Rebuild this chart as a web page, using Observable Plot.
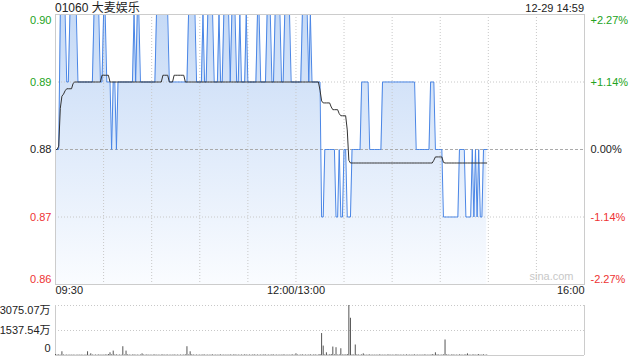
<!DOCTYPE html>
<html><head><meta charset="utf-8">
<script src="https://cdn.jsdelivr.net/npm/d3@7"></script>
<script src="https://cdn.jsdelivr.net/npm/@observablehq/plot@0.6"></script>
<style>
body{margin:0;background:#fff;}
#wrap{position:relative;width:640px;height:360px;font-family:"Liberation Sans",Arial,"Noto Sans CJK SC",sans-serif;}
#title{position:absolute;left:55px;top:0px;font-size:12px;color:#222;line-height:16px;}
#time{position:absolute;right:56px;top:1px;font-size:11px;color:#222;line-height:14px;}
#main,#vol{position:absolute;left:0;}
#main{top:0}
#vol{top:300px}
</style></head><body>
<div id="wrap"><div id="title">01060 大麦娱乐</div><div id="time">12-29 14:59</div><div id="main"></div><div id="vol"></div></div>
<script>
// minute-by-minute price (09:30 .. 14:59, trading minutes)
const price = [
0.88,0.88,0.88,0.90,0.90,0.90,0.90,0.89,0.89,0.90,
0.90,0.90,0.90,0.90,0.89,0.89,0.89,0.89,0.89,0.89,
0.89,0.89,0.89,0.89,0.90,0.90,0.90,0.90,0.89,0.89,
0.90,0.90,0.89,0.89,0.89,0.88,0.89,0.89,0.88,0.89,
0.89,0.89,0.89,0.89,0.89,0.89,0.89,0.89,0.89,0.90,
0.89,0.90,0.90,0.89,0.89,0.89,0.89,0.89,0.89,0.89,
0.89,0.89,0.89,0.90,0.90,0.90,0.90,0.90,0.90,0.90,
0.90,0.89,0.89,0.89,0.89,0.89,0.89,0.89,0.89,0.89,
0.89,0.89,0.89,0.90,0.90,0.90,0.90,0.90,0.89,0.89,
0.89,0.89,0.90,0.89,0.89,0.90,0.90,0.90,0.90,0.89,
0.89,0.89,0.90,0.89,0.89,0.90,0.90,0.90,0.90,0.89,
0.90,0.90,0.90,0.89,0.89,0.90,0.89,0.89,0.89,0.90,
0.89,0.89,0.89,0.89,0.89,0.89,0.90,0.90,0.89,0.89,
0.89,0.89,0.90,0.90,0.90,0.89,0.89,0.90,0.90,0.90,
0.90,0.89,0.89,0.90,0.90,0.90,0.90,0.89,0.89,0.89,
0.89,0.89,0.89,0.89,0.90,0.90,0.90,0.90,0.89,0.90,
0.89,0.89,0.89,0.89,0.89,0.89,0.87,0.87,0.88,0.88,
0.88,0.88,0.88,0.88,0.88,0.87,0.87,0.88,0.87,0.87,
0.88,0.88,0.87,0.87,0.87,0.88,0.88,0.88,0.88,0.88,
0.88,0.89,0.89,0.89,0.89,0.89,0.88,0.88,0.88,0.88,
0.88,0.88,0.88,0.88,0.89,0.89,0.89,0.89,0.89,0.89,
0.89,0.89,0.89,0.89,0.89,0.89,0.89,0.89,0.89,0.89,
0.89,0.89,0.89,0.89,0.89,0.88,0.88,0.88,0.88,0.88,
0.88,0.88,0.88,0.88,0.89,0.89,0.89,0.88,0.88,0.88,
0.88,0.88,0.87,0.87,0.87,0.87,0.87,0.87,0.87,0.87,
0.87,0.87,0.88,0.88,0.88,0.88,0.87,0.87,0.87,0.87,
0.88,0.87,0.88,0.87,0.88,0.87,0.87,0.88,0.88,0.88
];
// average price line
const avgPrice = [
0.8800,0.8800,0.8805,0.8861,0.8879,0.8882,0.8887,0.8890,0.8890,0.8890,
0.8890,0.8898,0.8900,0.8900,0.8900,0.8900,0.8900,0.8900,0.8900,0.8900,
0.8900,0.8900,0.8900,0.8900,0.8900,0.8900,0.8900,0.8900,0.8900,0.8910,
0.8910,0.8910,0.8910,0.8910,0.8900,0.8900,0.8900,0.8900,0.8900,0.8900,
0.8900,0.8900,0.8900,0.8900,0.8900,0.8900,0.8900,0.8900,0.8900,0.8900,
0.8900,0.8900,0.8900,0.8900,0.8900,0.8900,0.8900,0.8900,0.8900,0.8900,
0.8900,0.8900,0.8900,0.8900,0.8900,0.8900,0.8900,0.8910,0.8910,0.8910,
0.8910,0.8900,0.8900,0.8900,0.8910,0.8910,0.8910,0.8910,0.8910,0.8910,
0.8910,0.8900,0.8900,0.8900,0.8900,0.8900,0.8900,0.8900,0.8900,0.8900,
0.8900,0.8900,0.8900,0.8900,0.8900,0.8900,0.8900,0.8900,0.8900,0.8900,
0.8900,0.8900,0.8900,0.8900,0.8900,0.8900,0.8900,0.8900,0.8900,0.8900,
0.8900,0.8900,0.8900,0.8900,0.8900,0.8900,0.8900,0.8900,0.8900,0.8900,
0.8900,0.8900,0.8900,0.8900,0.8900,0.8900,0.8900,0.8900,0.8900,0.8900,
0.8900,0.8900,0.8900,0.8900,0.8900,0.8900,0.8900,0.8900,0.8900,0.8900,
0.8900,0.8900,0.8900,0.8900,0.8900,0.8900,0.8900,0.8900,0.8900,0.8900,
0.8900,0.8900,0.8900,0.8900,0.8900,0.8900,0.8900,0.8900,0.8900,0.8900,
0.8900,0.8900,0.8900,0.8900,0.8900,0.8888,0.8872,0.8869,0.8869,0.8869,
0.8869,0.8869,0.8863,0.8859,0.8859,0.8859,0.8859,0.8853,0.8850,0.8850,
0.8850,0.8850,0.8829,0.8784,0.8780,0.8780,0.8780,0.8780,0.8780,0.8780,
0.8780,0.8780,0.8780,0.8780,0.8780,0.8780,0.8780,0.8780,0.8780,0.8780,
0.8780,0.8780,0.8780,0.8780,0.8780,0.8780,0.8780,0.8780,0.8780,0.8780,
0.8780,0.8780,0.8780,0.8780,0.8780,0.8780,0.8780,0.8780,0.8780,0.8780,
0.8780,0.8780,0.8780,0.8780,0.8780,0.8780,0.8780,0.8780,0.8780,0.8780,
0.8780,0.8780,0.8780,0.8780,0.8780,0.8780,0.8784,0.8789,0.8789,0.8789,
0.8789,0.8789,0.8781,0.8780,0.8780,0.8780,0.8780,0.8780,0.8780,0.8780,
0.8780,0.8780,0.8780,0.8780,0.8780,0.8780,0.8780,0.8780,0.8780,0.8780,
0.8780,0.8780,0.8780,0.8780,0.8780,0.8780,0.8780,0.8780,0.8780,0.8780
];
// volume per minute (万)
const volume = [
60,30,40,20,229,30,20,30,20,30,
20,30,20,20,30,20,30,20,20,30,
229,20,104,30,20,30,20,40,20,30,
20,40,30,60,166,40,270,30,40,20,
30,20,540,30,270,40,30,20,30,40,
20,30,20,30,100,30,20,40,20,30,
20,30,40,20,30,20,30,40,20,30,
30,20,30,20,40,20,30,20,30,20,
30,40,540,30,229,40,30,20,30,20,
30,20,40,30,20,30,20,30,40,20,
30,20,30,40,20,30,20,30,20,40,
20,30,40,20,30,20,30,20,40,30,
20,30,20,30,40,20,30,20,30,20,
40,30,20,30,20,40,30,20,30,20,
30,20,40,30,20,30,20,30,40,20,
104,30,20,30,40,20,30,20,30,40,
20,30,40,20,30,60,1350,580,40,166,
30,40,60,520,40,478,30,40,415,30,
40,30,60,3075,2290,40,30,645,40,30,
20,40,100,30,20,30,40,20,30,20,
30,20,40,30,20,30,20,30,40,20,
30,20,30,40,20,30,20,30,20,40,
20,30,20,30,40,20,30,20,30,20,
40,30,20,30,20,60,30,166,40,30,
20,30,40,955,40,30,20,30,40,20,
30,20,40,30,20,30,40,100,30,20,
30,40,20,30,60,20,30,40,20,30
];
const yTicks = [0.86, 0.87, 0.88, 0.89, 0.90];
const yLabels = ["0.86", "0.87", "0.88", "0.89", "0.90"];
const pctLabels = ["-2.27%", "-1.14%", "0.00%", "+1.14%", "+2.27%"];
const xTickLabels = ["09:30", "12:00/13:00", "16:00"];
const xTickMinutes = [0, 150, 330];
const gridMinutes = [30,60,90,120,150,180,210,240,270,300];
const volTicks = [0, 1537.54, 3075.07];
const volLabels = ["0", "1537.54万", "3075.07万"];

const GREEN = "#22a322", RED = "#ee3333", BLACK = "#222";
const tickColor = v => v > 0.88 ? GREEN : v < 0.88 ? RED : BLACK;

const rows = price.map((p, i) => ({m: i, p, a: avgPrice[i], v: volume[i]}));
const font = '"Liberation Sans", Arial, "Noto Sans CJK SC", sans-serif';

function defs() {
  const ns = "http://www.w3.org/2000/svg";
  const g = document.createElementNS(ns, "defs");
  g.innerHTML = '<linearGradient id="fillgrad" gradientUnits="userSpaceOnUse" x1="0" y1="14" x2="0" y2="284"><stop offset="0" stop-color="#c6daf6"/><stop offset="1" stop-color="#fafcff"/></linearGradient>';
  return g;
}

const tk = yTicks.map((v, i) => ({v, t: yLabels[i], r: pctLabels[i], c: tickColor(v)}));
const tkMid = tk.slice(1, 4), tkTop = [tk[4]], tkBot = [tk[0]];
function yLabelMarks(data, dy) {
  return [
    Plot.text(data, {y: "v", text: "t", fill: "c", frameAnchor: "left", textAnchor: "end", dx: -4, dy}),
    Plot.text(data, {y: "v", text: "r", fill: "c", frameAnchor: "right", textAnchor: "start", dx: 6, dy})
  ];
}

const mainChart = Plot.plot({
  width: 640, height: 300,
  marginLeft: 55, marginRight: 56, marginTop: 14, marginBottom: 16,
  x: {domain: [0, 330], axis: null},
  y: {domain: [0.86, 0.90], axis: null},
  color: {type: "identity"},
  style: {fontFamily: font, fontSize: "11px", background: "transparent", overflow: "visible"},
  marks: [
    defs,
    Plot.areaY(rows, {x: "m", y1: 0.86, y2: "p", fill: "url(#fillgrad)"}),
    Plot.ruleX(gridMinutes, {stroke: "#c8c8c8", strokeDasharray: "1,2"}),
    Plot.ruleY([0.87, 0.89], {stroke: "#c8c8c8", strokeDasharray: "1,2"}),
    Plot.ruleY([0.88], {stroke: "#aaaaaa", strokeDasharray: "3,2"}),
    Plot.lineY(rows, {x: "m", y: "p", stroke: "#4a86e6", strokeWidth: 1}),
    Plot.lineY(rows, {x: "m", y: "a", stroke: "#333", strokeWidth: 1}),
    Plot.frame({stroke: "#cccccc"}),
    ...yLabelMarks(tkMid, 0),
    ...yLabelMarks(tkTop, 6),
    ...yLabelMarks(tkBot, -5),
    Plot.text([xTickLabels[0]], {x: [xTickMinutes[0]], frameAnchor: "bottom", textAnchor: "start", dy: 9, fill: BLACK}),
    Plot.text([xTickLabels[1]], {x: [xTickMinutes[1]], frameAnchor: "bottom", textAnchor: "middle", dy: 9, fill: BLACK}),
    Plot.text([xTickLabels[2]], {x: [xTickMinutes[2]], frameAnchor: "bottom", textAnchor: "end", dy: 9, fill: BLACK}),
    Plot.text(["sina.com"], {frameAnchor: "bottom-right", textAnchor: "end", dx: -11, dy: -5, fill: "#c8c8c8", fontSize: 11})
  ]
});
document.getElementById("main").appendChild(mainChart);

const vt = volTicks.map((v, i) => ({v, t: volLabels[i]}));
const volChart = Plot.plot({
  width: 640, height: 60,
  marginLeft: 55, marginRight: 56, marginTop: 5, marginBottom: 5,
  x: {domain: [0, 330], axis: null},
  y: {domain: [0, 3075.07], axis: null},
  style: {fontFamily: font, fontSize: "11px", background: "transparent", overflow: "visible"},
  marks: [
    Plot.ruleY([1537.54, 3075.07], {stroke: "#c8c8c8", strokeDasharray: "1,2"}),
    Plot.ruleX([0, 330], {stroke: "#cccccc"}),
    Plot.ruleY([0], {stroke: "#cccccc"}),
    Plot.ruleX(rows, {x: "m", y1: 0, y2: "v", stroke: "#555"}),
    Plot.text([vt[2]], {y: "v", text: "t", frameAnchor: "left", textAnchor: "end", dx: -5, dy: 5, fill: BLACK}),
    Plot.text([vt[1]], {y: "v", text: "t", frameAnchor: "left", textAnchor: "end", dx: -5, dy: 0, fill: BLACK}),
    Plot.text([vt[0]], {y: "v", text: "t", frameAnchor: "left", textAnchor: "end", dx: -5, dy: -7, fill: BLACK})
  ]
});
document.getElementById("vol").appendChild(volChart);
</script>
</body></html>
